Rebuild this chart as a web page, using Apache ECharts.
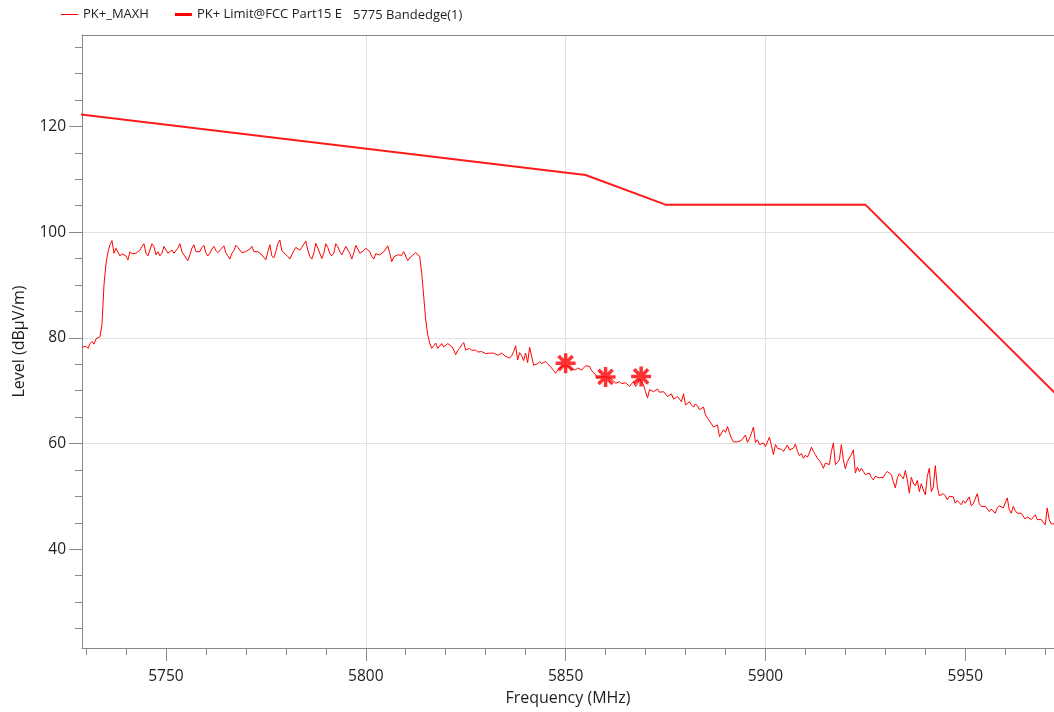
<!DOCTYPE html>
<html>
<head>
<meta charset="utf-8">
<script src="https://cdn.jsdelivr.net/npm/echarts@6/dist/echarts.min.js"></script>
<style>
html,body{margin:0;padding:0;background:#fff;}
#chart{width:1054px;height:712px;}
</style>
</head>
<body>
<div id="chart"></div>
<script>
// ---- data ----
const FREQ_START = 5729.0;   // MHz, first sweep point
const FREQ_STEP = 0.5;       // MHz between sweep points

// lower skirt + rising edge
const maxhSegA = [78.2, 77.9, 78.4, 78.0, 78.9, 79.3, 78.8, 79.8, 79.5, 80.2, 82.5, 90.0, 94.0, 96.2, 97.6, 98.4];
// in-band plateau + falling edge
const maxhSegB = [
  96.0, 96.95, 97.3, 95.5, 95.9, 96.0, 95.5, 94.75, 96.3, 95.9,
  95.7, 96.0, 96.3, 96.6, 97.3, 97.8, 96.0, 95.5, 95.7, 97.8,
  97.3, 95.7, 96.3, 95.5, 96.0, 97.3, 96.95, 96.0, 96.3, 96.6,
  96.0, 95.9, 96.95, 97.8, 96.3, 95.7, 95.1, 94.6, 95.7, 96.95,
  97.6, 96.3, 96.0, 96.3, 97.1, 97.5, 96.1, 95.5, 96.0, 96.8,
  97.3, 96.5, 96.1, 96.0, 96.95, 97.4, 96.1, 95.5, 94.9, 96.0,
  96.5, 97.5, 97.1, 96.6, 96.1, 96.0, 96.3, 96.1, 96.8, 97.3,
  96.3, 96.0, 96.3, 96.1, 95.7, 95.4, 94.75, 96.3, 97.6, 95.5,
  95.1, 96.3, 97.8, 98.5, 96.5, 96.1, 95.9, 95.4, 94.9, 95.7,
  96.5, 97.1, 96.95, 96.6, 97.1, 97.4, 98.3, 96.6, 95.4, 94.9,
  96.0, 97.9, 98.0, 96.0, 95.0, 96.0, 97.8, 97.1, 96.0, 95.5,
  96.0, 97.8, 97.3, 96.3, 95.7, 95.4, 97.3, 97.4, 96.0, 94.9,
  96.0, 97.5, 96.8, 96.0, 96.3, 96.5, 96.95, 97.3, 96.3, 95.4,
  94.9, 95.9, 96.0, 95.7, 96.0, 96.3, 96.8, 97.4, 96.0, 94.4,
  95.3, 95.5, 95.7, 95.4, 95.6, 96.3, 96.5, 94.6, 95.1, 95.5,
  95.7, 96.1, 96.0, 95.4, 92.2, 87.8, 83.4, 80.6, 79.0, 78.0,
  78.5, 79.0, 78.0, 78.3, 78.9, 78.3, 78.0, 78.9
];
// upper skirt, first part
const maxhSegC = [
  78.7, 78.4, 77.7, 76.8, 77.6, 78.0, 78.7, 79.1, 77.7, 77.6,
  78.0, 77.6, 77.3, 77.7, 77.3, 77.1, 77.4, 77.2, 77.0, 77.3,
  77.1, 76.8, 77.1, 77.0, 76.7, 76.6, 77.1, 76.8, 76.5, 76.3,
  76.15, 76.6, 77.4, 78.5, 75.8, 77.2, 76.6, 75.7, 77.1, 75.3,
  78.2, 76.5, 74.8, 74.6, 75.1, 75.5, 75.1, 75.3, 75.5, 75.1,
  74.8, 74.3, 73.8, 73.3, 73.6, 74.3, 74.6, 74.7, 74.9, 74.7,
  74.4, 74.1, 74.2, 73.9, 74.3, 74.4, 73.9, 74.2, 74.7, 74.9,
  74.6, 73.8, 73.4, 73.0, 72.4, 72.6, 72.7, 72.8, 72.6, 72.8,
  72.4, 72.2, 71.9, 71.4, 71.7, 71.7, 71.3, 71.0, 71.5, 71.2,
  70.8, 71.3, 71.7, 70.8, 71.3, 72.2, 72.4, 71.1, 69.8, 68.6,
  70.2, 70.5, 69.8, 70.0, 70.3, 69.7, 69.4, 69.8, 69.7, 68.9,
  69.2, 69.4, 68.4, 68.1, 68.9, 68.4, 67.9, 69.4, 67.3, 67.6,
  67.9, 67.3, 66.9, 67.5, 67.1, 66.4, 66.7, 66.9, 65.4, 64.8,
  64.5, 63.7, 63.1, 62.8, 63.5
];
// upper skirt, second part
const maxhSegD = [
  61.3, 61.6, 62.6, 62.1, 63.2, 62.0, 61.0, 60.3, 60.1, 60.3,
  60.4, 60.6, 60.8, 61.6, 60.2, 60.95, 61.96, 63.1, 60.2, 60.7,
  59.8, 59.6, 60.1, 59.4, 59.1, 61.2, 59.6, 57.9, 59.8, 59.1,
  59.4, 58.9, 58.5, 59.1, 59.7, 58.8, 58.7, 59.1, 59.9, 58.5,
  57.7, 58.1, 57.2, 57.8, 57.4, 58.2, 59.3, 58.5, 57.9, 57.2,
  56.8, 56.2, 55.3, 56.3, 56.4, 56.0, 58.5, 60.1, 56.0, 56.4,
  56.9, 59.8, 56.9, 55.2, 56.6, 56.3, 57.9, 58.8, 54.4, 55.5,
  54.7, 55.3, 54.7, 54.1, 53.8, 54.4, 53.6, 53.1, 53.8, 53.9,
  53.5, 53.3, 53.6, 54.3, 54.7, 55.0, 54.1, 52.8, 51.6, 53.5,
  54.3, 53.8, 53.3, 54.9, 53.1, 50.6, 53.6, 52.5, 52.0, 53.0,
  50.9, 52.4, 51.2, 50.3, 53.8, 55.3, 50.9, 51.7, 55.8, 51.9,
  50.1, 50.0, 50.5, 50.1, 49.35, 50.0, 50.3, 49.9, 48.7, 49.2,
  48.8, 48.4, 49.2, 48.7, 49.0, 49.9, 48.2, 48.6, 48.8, 50.5,
  48.6, 48.1, 47.8, 48.1, 47.6, 47.1, 47.6, 47.5, 46.8, 47.8,
  48.2, 48.3, 47.8, 48.1, 49.7, 47.5, 46.8, 48.1, 47.3, 46.8,
  46.5, 46.8, 46.5, 45.7, 46.1, 46.2, 45.6, 45.7, 46.5, 45.6,
  45.25, 45.6, 45.1, 44.6, 47.8, 45.6, 44.8, 44.6, 44.8
];

const limitFreq  = [5725, 5855, 5875, 5925, 5975];
const limitLevel = [122.6, 110.8, 105.2, 105.2, 67.6];

const markerFreq  = [5850, 5860, 5868.9];
const markerLevel = [75.2, 72.6, 72.7];

const xTickValues = [5750, 5800, 5850, 5900, 5950];
const yTickValues = [40, 60, 80, 100, 120];

const seriesNames = ['PK+_MAXH', 'PK+ Limit@FCC Part15 E', '5775 Bandedge(1)'];

// ---- build ----
const maxhValues = [].concat(maxhSegA, maxhSegB, maxhSegC, maxhSegD);
const maxhData = maxhValues.map((v, i) => [FREQ_START + i * FREQ_STEP, v]);
const limitData = limitFreq.map((f, i) => [f, limitLevel[i]]);
const markerData = markerFreq.map((f, i) => [f, markerLevel[i]]);

const X_MIN = 5729, X_MAX = 5972.2, Y_MIN = 21.3, Y_MAX = 137.3;
const FONT = '"Open Sans", "Noto Sans", "DejaVu Sans", sans-serif';
const TEXT = '#1e1e1e';
const AXIS_GRAY = '#8a8a8a';
const GRID_GRAY = '#e1e1e1';
const RED = '#ff0000';
const starPath = 'path://M0 8L16 8M8 0L8 16M2.34 2.34L13.66 13.66M2.34 13.66L13.66 2.34';

const chart = echarts.init(document.getElementById('chart'));
const legendText = { fontFamily: FONT, fontSize: 13, color: TEXT };
const plainNum = (v) => String(v);

chart.setOption({
  animation: false,
  backgroundColor: '#ffffff',
  grid: { left: 82, right: 0, top: 35, bottom: 64, containLabel: false },
  legend: [
    {
      data: [
        { name: seriesNames[0], icon: 'path://M0 0H17V1H0Z', itemStyle: { color: RED } },
        { name: seriesNames[1], icon: 'path://M0 0H17V3H0Z', itemStyle: { color: RED } }
      ],
      left: 61, top: 8, padding: 0, itemWidth: 17, itemHeight: 14, itemGap: 26,
      selectedMode: false, textStyle: legendText
    },
    {
      data: [{ name: seriesNames[2], icon: 'none' }],
      left: 346, top: 8, padding: 0, itemWidth: 2, itemHeight: 14,
      selectedMode: false, textStyle: legendText
    }
  ],
  xAxis: [
    {
      type: 'value', min: X_MIN, max: X_MAX,
      name: 'Frequency (MHz)', nameLocation: 'middle', nameGap: 42,
      nameTextStyle: { fontFamily: FONT, fontSize: 16, color: TEXT },
      axisLine: { show: true, onZero: false, lineStyle: { color: AXIS_GRAY, width: 1 } },
      axisTick: { show: true, customValues: xTickValues, length: 13, lineStyle: { color: AXIS_GRAY } },
      minorTick: { show: true, splitNumber: 5, length: 7, lineStyle: { color: AXIS_GRAY } },
      axisLabel: { customValues: xTickValues, formatter: plainNum, margin: 21, fontFamily: FONT, fontSize: 15.5, color: TEXT },
      splitLine: { show: true, showMinLine: false, showMaxLine: false, lineStyle: { color: GRID_GRAY, width: 1 } },
      minorSplitLine: { show: false }
    },
    {
      type: 'value', min: X_MIN, max: X_MAX, position: 'top',
      axisLine: { show: true, onZero: false, lineStyle: { color: AXIS_GRAY, width: 1 } },
      axisTick: { show: false }, axisLabel: { show: false }, splitLine: { show: false }
    }
  ],
  yAxis: {
    type: 'value', min: Y_MIN, max: Y_MAX,
    name: 'Level (dBµV/m)', nameLocation: 'middle', nameGap: 55,
    nameTextStyle: { fontFamily: FONT, fontSize: 16, color: TEXT },
    axisLine: { show: true, onZero: false, lineStyle: { color: AXIS_GRAY, width: 1 } },
    axisTick: { show: true, customValues: yTickValues, length: 13, lineStyle: { color: AXIS_GRAY } },
    minorTick: { show: true, splitNumber: 4, length: 7, lineStyle: { color: AXIS_GRAY } },
    axisLabel: { customValues: yTickValues, formatter: plainNum, margin: 16, fontFamily: FONT, fontSize: 15.5, color: TEXT },
    splitLine: { show: true, showMinLine: false, showMaxLine: false, lineStyle: { color: GRID_GRAY, width: 1 } },
    minorSplitLine: { show: false }
  },
  series: [
    {
      name: seriesNames[0], type: 'line', data: maxhData,
      symbol: 'none', showSymbol: false, silent: true, clip: true, z: 3,
      lineStyle: { color: RED, width: 1 }, itemStyle: { color: RED }
    },
    {
      name: seriesNames[1], type: 'line', data: limitData,
      symbol: 'none', showSymbol: false, silent: true, clip: true, z: 2,
      lineStyle: { color: '#ff1a1a', width: 2 }, itemStyle: { color: '#ff1a1a' }
    },
    {
      name: seriesNames[2], type: 'scatter', data: markerData,
      symbol: starPath, symbolSize: 20, silent: true, z: 5,
      itemStyle: { color: RED, borderColor: RED, borderWidth: 3.5 }
    }
  ]
});
</script>
</body>
</html>
